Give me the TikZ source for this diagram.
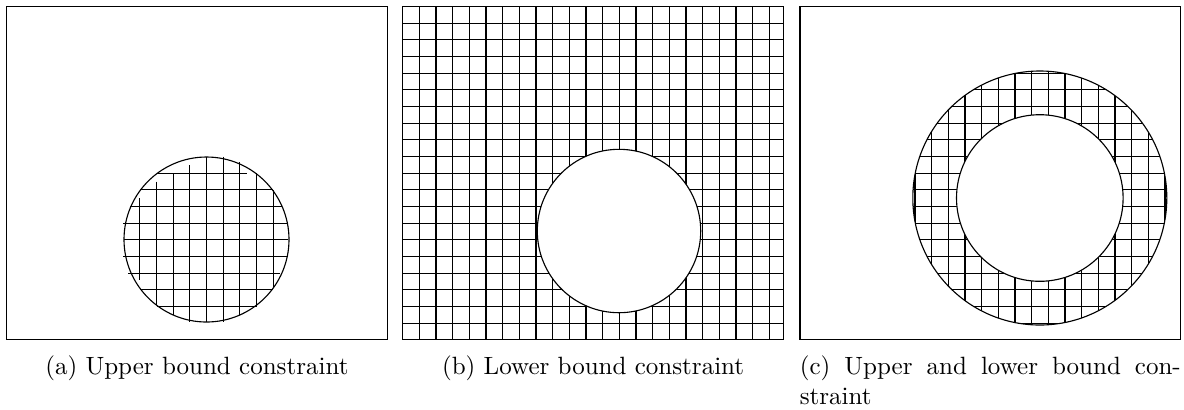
\documentclass[tikz,border=0pt]{standalone}
\usepackage{tikz}

\begin{document}
\begin{tikzpicture}[
  x=0.4pt, y=-0.4pt,
  panel/.style={draw, line width=0.5pt},
  mesh/.style={line width=0.45pt},
  disk/.style={draw, line width=0.45pt},
  hole/.style={draw, fill=white, line width=0.45pt},
  caption/.style={anchor=north, inner sep=0pt, text width=152.4pt}
]
\useasboundingbox (0,0) rectangle (1184,409);

\coordinate (ca) at (206.5,239.5);
\coordinate (cb) at (619,231);
\coordinate (cc) at (1039.8,198);

% (a) upper bound
\foreach \i/\ya/\yb in {8/198.3/280, 9/181.7/305, 10/173.3/315, 11/165/321.7,
    12/156.7/321.7, 13/156.7/321.7, 14/162/315, 15/173/306.7, 16/190/286.7}
  \draw[mesh] ({6.5+16.667*\i},\ya) -- ({6.5+16.667*\i},\yb);
\foreach \j/\xa/\xb in {10/156.7/246.7, 11/140/272.7, 12/130/281.7, 13/123.3/288.3,
    14/124/288.3, 15/123.3/288.3, 16/128/280, 17/140/272.7, 18/156.7/256}
  \draw[mesh] (\xa,{6.5+16.667*\j}) -- (\xb,{6.5+16.667*\j});
\draw[disk] (ca) circle (82.5);
\draw[panel] (6.5,6.5) rectangle (387.3,339.8);

% (b) lower bound
\foreach \i in {1,...,22}
  \draw[mesh] ({402.7+16.667*\i},6.5) -- ({402.7+16.667*\i},339.8);
\foreach \j in {1,...,19}
  \draw[mesh] (402.7,{6.5+16.667*\j}) -- (783.5,{6.5+16.667*\j});
\draw[hole] (cb) circle (81.7);
\draw[panel] (402.7,6.5) rectangle (783.5,339.8);

% (c) upper and lower bound
\begin{scope}
  \clip (cc) circle (127);
  \foreach \i in {-8,...,8}
    \draw[mesh] ({1031.7+16.667*\i},6.5) -- ({1031.7+16.667*\i},339.8);
  \foreach \j in {0,...,20}
    \draw[mesh] (799.9,{6.5+16.667*\j}) -- (1180.7,{6.5+16.667*\j});
\end{scope}
\draw[disk] (cc) circle (127);
\draw[hole] (cc) circle (83.3);
\draw[panel] (799.9,6.5) rectangle (1180.7,339.8);

\node[caption, align=center] (capa) at (196.9,355) {(a) Upper bound constraint};
\node[caption, align=center] (capb) at (593.1,355) {(b) Lower bound constraint};
\node[caption, align=justify] (capc) at (990.3,355) {(c) Upper and lower bound con\-straint};

\end{tikzpicture}
\end{document}
